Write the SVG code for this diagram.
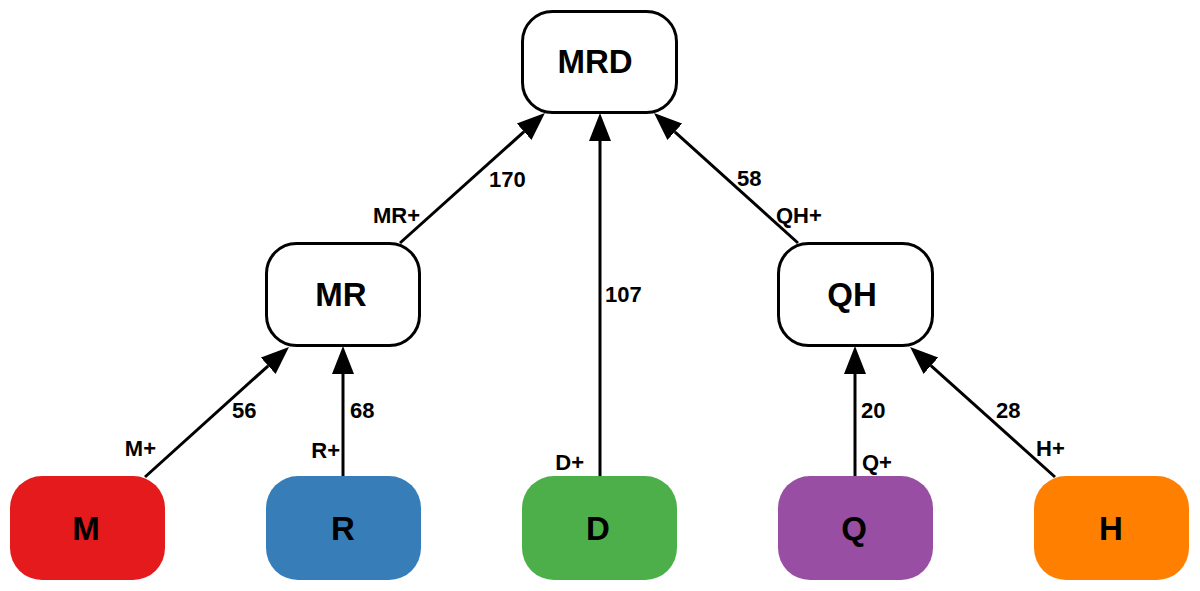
<svg xmlns="http://www.w3.org/2000/svg" width="1200" height="591" viewBox="0 0 1200 591">
<style>
.box{fill:#fff;stroke:#000;stroke-width:3}
.nl{font-family:"Liberation Sans",Arial,Helvetica,sans-serif;font-weight:bold;font-size:33px;text-anchor:middle;fill:#000}
.el{font-family:"Liberation Sans",Arial,Helvetica,sans-serif;font-weight:bold;font-size:22px;fill:#000}
.e{stroke:#000;stroke-width:3;fill:none;marker-end:url(#arr)}
</style>
<defs>
<marker id="arr" markerUnits="userSpaceOnUse" markerWidth="28" markerHeight="24" refX="0" refY="12" orient="auto">
<path d="M0,1 L28,12 L0,23 z" fill="#000"/>
</marker>
</defs>
<rect width="1200" height="591" fill="#fff"/>
<g id="edges">
<line class="e" x1="145" y1="477" x2="268.2" y2="365.8"/>
<line class="e" x1="343" y1="477" x2="343" y2="374"/>
<line class="e" x1="600" y1="477" x2="600" y2="141"/>
<line class="e" x1="855" y1="477" x2="855" y2="374"/>
<line class="e" x1="1055" y1="477" x2="930.9" y2="365.7"/>
<line class="e" x1="400" y1="243" x2="524.1" y2="131.7"/>
<line class="e" x1="798" y1="243" x2="674.8" y2="131.8"/>
</g>
<g id="edge-labels">
<text class="el" x="489" y="187">170</text>
<text class="el" x="420" y="223" text-anchor="end">MR+</text>
<text class="el" x="605" y="302">107</text>
<text class="el" x="584" y="470" text-anchor="end">D+</text>
<text class="el" x="737" y="186">58</text>
<text class="el" x="776" y="223">QH+</text>
<text class="el" x="232" y="418">56</text>
<text class="el" x="156" y="456" text-anchor="end">M+</text>
<text class="el" x="350" y="418">68</text>
<text class="el" x="340" y="458" text-anchor="end">R+</text>
<text class="el" x="861" y="418">20</text>
<text class="el" x="862" y="470">Q+</text>
<text class="el" x="996" y="418">28</text>
<text class="el" x="1036" y="456">H+</text>
</g>
<g id="node-MRD"><rect class="box" x="522.5" y="11.5" width="154" height="101" rx="30"/><text class="nl" x="595" y="73">MRD</text></g>
<g id="node-MR"><rect class="box" x="266.5" y="243.5" width="153" height="102" rx="30"/><text class="nl" x="341" y="306">MR</text></g>
<g id="node-QH"><rect class="box" x="778.5" y="243.5" width="154" height="102" rx="30"/><text class="nl" x="852" y="306">QH</text></g>
<g id="node-M"><rect x="10" y="476" width="155" height="104" rx="32" fill="#e41a1c"/><text class="nl" x="86" y="540">M</text></g>
<g id="node-R"><rect x="266" y="476" width="155" height="104" rx="32" fill="#377eb8"/><text class="nl" x="343" y="540">R</text></g>
<g id="node-D"><rect x="522" y="476" width="155" height="104" rx="32" fill="#4daf4a"/><text class="nl" x="598" y="540">D</text></g>
<g id="node-Q"><rect x="778" y="476" width="155" height="104" rx="32" fill="#984ea3"/><text class="nl" x="854" y="540">Q</text></g>
<g id="node-H"><rect x="1034" y="476" width="155" height="104" rx="32" fill="#ff7f00"/><text class="nl" x="1111" y="540">H</text></g>
</svg>
